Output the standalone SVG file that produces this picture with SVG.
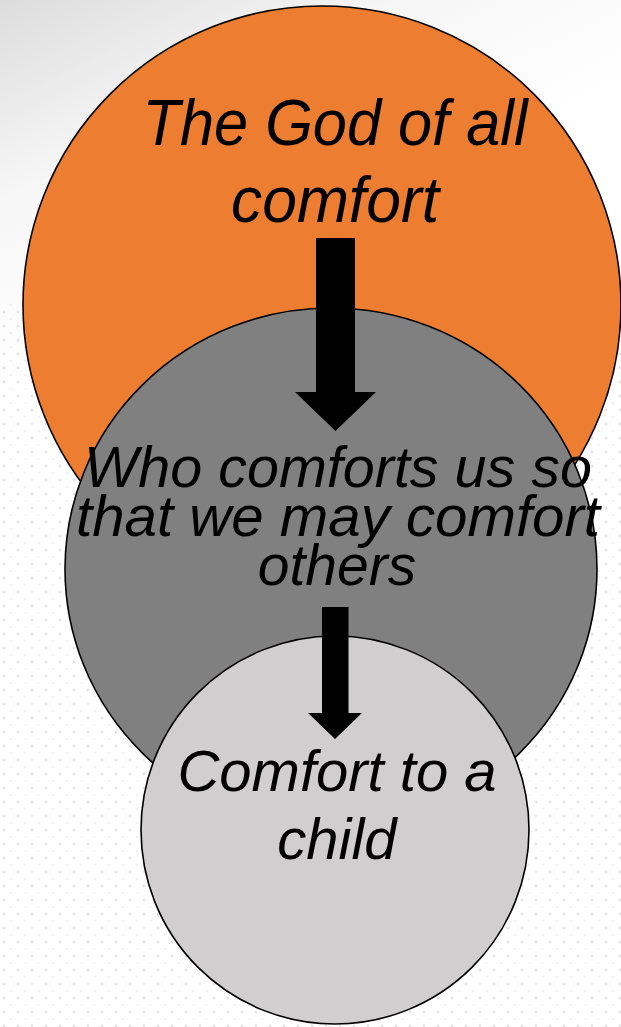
<svg xmlns="http://www.w3.org/2000/svg" width="621" height="1027" viewBox="0 0 621 1027">
<defs>
<linearGradient id="bg" x1="0" y1="0" x2="0.3" y2="1">
<stop offset="0" stop-color="#dcdcdc"/>
<stop offset="0.18" stop-color="#f6f6f6"/>
<stop offset="0.35" stop-color="#ffffff"/>
</linearGradient>
<pattern id="dots" width="14" height="14" patternUnits="userSpaceOnUse">
<circle cx="4" cy="4" r="1.4" fill="#d8d8d8"/>
<circle cx="11" cy="11" r="1" fill="#e4e4e4"/>
</pattern>
<style>
.node{stroke:#000;stroke-width:1.6}
.lbl{font-family:"Liberation Sans",Arial,sans-serif;font-style:italic;fill:#000;text-anchor:middle}
.arrow{fill:#000}
</style>
</defs>
<rect width="621" height="1027" fill="url(#bg)"/>
<rect x="0" y="300" width="621" height="727" fill="url(#dots)" opacity="0.7"/>
<g id="node-god">
<ellipse class="node" cx="322" cy="305" rx="299" ry="299" fill="#ED7D31"/>
<text class="lbl" font-size="65" x="335" y="145" textLength="385" lengthAdjust="spacingAndGlyphs">The God of all</text>
<text class="lbl" font-size="65" x="335" y="222" textLength="208" lengthAdjust="spacingAndGlyphs">comfort</text>
</g>
<g id="node-us">
<ellipse class="node" cx="331" cy="569" rx="266" ry="261" fill="#808080"/>
<text class="lbl" font-size="57" x="338" y="487" textLength="508" lengthAdjust="spacingAndGlyphs">Who comforts us so</text>
<text class="lbl" font-size="57" x="338" y="536" textLength="524" lengthAdjust="spacingAndGlyphs">that we may comfort</text>
<text class="lbl" font-size="57" x="337" y="585">others</text>
</g>
<g id="node-child">
<ellipse class="node" cx="335" cy="830" rx="194" ry="194" fill="#D0CECF"/>
<text class="lbl" font-size="58" x="337" y="791">Comfort to a</text>
<text class="lbl" font-size="58" x="337" y="859">child</text>
</g>
<g id="connectors">
<path class="arrow" d="M316,238 H355 V392 H376 L335.5,431 L295,392 H316 Z"/>
<path class="arrow" d="M322,607 H348.5 V713 H362 L335,739 L308,713 H322 Z"/>
</g>
</svg>
